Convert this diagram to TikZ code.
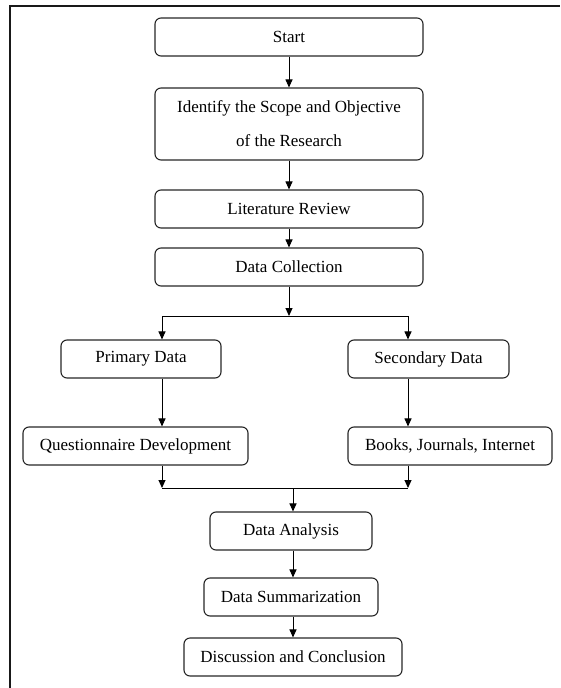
\documentclass[tikz,border=0pt]{standalone}
\usepackage{fontspec}
\setmainfont{Liberation Serif}
\usetikzlibrary{arrows.meta}
\begin{document}
\begin{tikzpicture}[x=1pt,y=1pt,
  box/.style={draw=black!85, line width=1.1pt, rounded corners=6pt, minimum height=38pt, inner sep=0pt, font=\fontsize{17}{34}\selectfont, align=center},
  arr/.style={-{Triangle[length=8pt,width=7pt]}, line width=1pt},
  ln/.style={line width=1pt}]
\useasboundingbox (0,0) rectangle (560,-688);
\draw[line width=2.5pt, black!90] (10,-688) -- (10,-6) -- (560,-6);

\node[box, minimum width=268pt] (start) at (289,-37) {Start};
\node[box, minimum width=268pt, minimum height=72pt] (ident) at (289,-124) {Identify the Scope and Objective\\of the Research};
\node[box, minimum width=268pt] (lit) at (289,-209) {Literature Review};
\node[box, minimum width=268pt] (dc) at (289,-267) {Data Collection};
\node[box, minimum width=160pt] (prim) at (141,-359) {Primary Data};
\node[box, minimum width=161pt] (sec) at (428.5,-359) {Secondary Data};
\node[box, minimum width=225pt] (ques) at (135.5,-446) {Questionnaire Development};
\node[box, minimum width=204pt] (books) at (450,-446) {Books, Journals, Internet};
\node[box, minimum width=162pt] (da) at (291,-531) {Data Analysis};
\node[box, minimum width=174pt] (ds) at (291,-597) {Data Summarization};
\node[box, minimum width=218pt] (dcon) at (293,-657) {Discussion and Conclusion};

\coordinate (split) at (289,-316);
\coordinate (bl) at (162,-316);
\coordinate (br) at (408,-316);
\coordinate (ml) at (162,-488);
\coordinate (mr) at (408,-488);
\coordinate (mm) at (293,-488);

\draw[arr] (start) -- (ident);
\draw[arr] (ident) -- (lit);
\draw[arr] (lit) -- (dc);
\draw[arr] (dc) -- (split);
\draw[ln] (bl) -- (br);
\draw[arr] (bl) -- (bl |- prim.north);
\draw[arr] (br) -- (br |- sec.north);
\draw[arr] (prim.south -| bl) -- (ques.north -| bl);
\draw[arr] (sec.south -| br) -- (books.north -| br);
\draw[arr] (ques.south -| ml) -- (ml);
\draw[arr] (books.south -| mr) -- (mr);
\draw[ln] (ml) -- (mr);
\draw[arr] (mm) -- (mm |- da.north);
\draw[arr] (da.south -| mm) -- (ds.north -| mm);
\draw[arr] (ds.south -| mm) -- (dcon.north -| mm);
\end{tikzpicture}
\end{document}
